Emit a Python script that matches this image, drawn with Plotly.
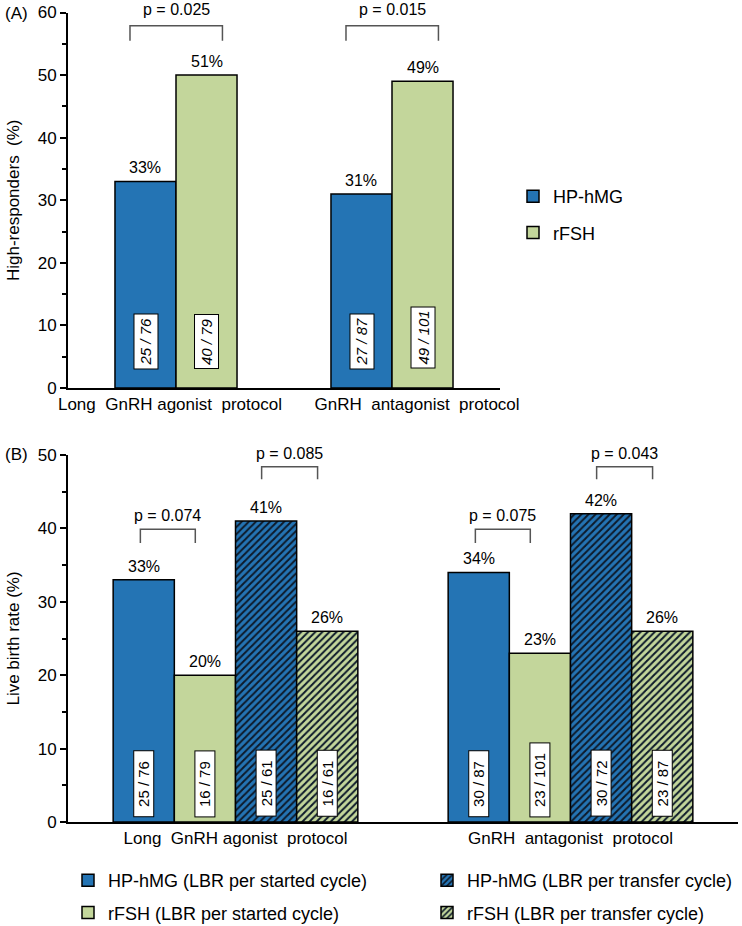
import plotly.graph_objects as go

# ---------------- data ----------------
protocols = ["Long  GnRH agonist  protocol", "GnRH  antagonist  protocol"]

# Panel A: high responders
a_series = ["HP-hMG", "rFSH"]
a_values = [[33, 31], [50, 49]]
a_labels = [["33%", "31%"], ["51%", "49%"]]
a_counts = [["25 / 76", "27 / 87"], ["40 / 79", "49 / 101"]]
a_pvalues = ["p = 0.025", "p = 0.015"]

# Panel B: live birth rate
b_series = ["HP-hMG (LBR per started cycle)", "rFSH (LBR per started cycle)",
            "HP-hMG (LBR per transfer cycle)", "rFSH (LBR per transfer cycle)"]
b_values = [[33, 34], [20, 23], [41, 42], [26, 26]]
b_labels = [["33%", "34%"], ["20%", "23%"], ["41%", "42%"], ["26%", "26%"]]
b_counts = [["25 / 76", "30 / 87"], ["16 / 79", "23 / 101"],
            ["25 / 61", "30 / 72"], ["16 / 61", "23 / 87"]]
b_pvalues_started = ["p = 0.074", "p = 0.075"]
b_pvalues_transfer = ["p = 0.085", "p = 0.043"]

# ---------------- style ----------------
BLUE = "#2474b4"
GREEN = "#c3d69b"
FONT = "Liberation Sans, Arial, sans-serif"
W, H = 742, 926

fig = go.Figure()

# Panel A bars
wa = 0.2825
colors_a = [BLUE, GREEN]
for k, name in enumerate(a_series):
    xs = [i + (k - 0.5) * wa for i in range(len(protocols))]
    fig.add_trace(go.Bar(
        x=xs, y=a_values[k], width=wa, name=name,
        marker=dict(color=colors_a[k], line=dict(color="black", width=1.5)),
        xaxis="x", yaxis="y", legend="legend", legendgroup="a%d" % k,
        hoverinfo="skip"))
    for i in range(len(protocols)):
        fig.add_annotation(x=xs[i], y=a_values[k][i], xref="x", yref="y",
                           text=a_labels[k][i], showarrow=False,
                           yanchor="bottom", yshift=3,
                           font=dict(size=16, color="black", family=FONT))
        fig.add_annotation(x=xs[i], y=0, xref="x", yref="y",
                           text="<i>%s</i>" % a_counts[k][i], showarrow=False,
                           textangle=-90, yanchor="bottom", yshift=19,
                           bgcolor="white", bordercolor="black", borderwidth=1,
                           borderpad=3,
                           font=dict(size=15, color="black", family=FONT))

# Panel B bars
wb = 0.1826
colors_b = [BLUE, GREEN, BLUE, GREEN]
patterns_b = ["", "", "/", "/"]
for k, name in enumerate(b_series):
    xs = [i + (k - 1.5) * wb for i in range(len(protocols))]
    marker = dict(color=colors_b[k], line=dict(color="black", width=1.5))
    if patterns_b[k]:
        marker["pattern"] = dict(shape=patterns_b[k], fgcolor="#0d1a2a",
                                 bgcolor=colors_b[k], size=5, solidity=0.4,
                                 fillmode="replace")
    fig.add_trace(go.Bar(
        x=xs, y=b_values[k], width=wb, name=name, marker=marker,
        xaxis="x2", yaxis="y2",
        legend="legend2" if k < 2 else "legend3", legendgroup="b%d" % k,
        hoverinfo="skip"))
    for i in range(len(protocols)):
        fig.add_annotation(x=xs[i], y=b_values[k][i], xref="x2", yref="y2",
                           text=b_labels[k][i], showarrow=False,
                           yanchor="bottom", yshift=3,
                           font=dict(size=16, color="black", family=FONT))
        fig.add_annotation(x=xs[i], y=0, xref="x2", yref="y2",
                           text="&nbsp;&nbsp;%s&nbsp;&nbsp;" % b_counts[k][i],
                           showarrow=False,
                           textangle=-90, yanchor="bottom", yshift=5,
                           bgcolor="white", bordercolor="black", borderwidth=1,
                           borderpad=1,
                           font=dict(size=15, color="black", family=FONT))

# brackets
BR = dict(color="#555555", width=1.5)


def bracket(xref, yref, x0, x1, ytop, ybot, text, tshift):
    fig.add_shape(type="path", xref=xref, yref=yref,
                  path="M %f,%f L %f,%f L %f,%f L %f,%f" % (x0, ybot, x0, ytop, x1, ytop, x1, ybot),
                  line=BR)
    fig.add_annotation(x=(x0 + x1) / 2, y=ytop, xref=xref, yref=yref, text=text,
                       showarrow=False, yanchor="bottom", yshift=tshift,
                       font=dict(size=16, color="black", family=FONT))


for i, p in enumerate(a_pvalues):
    bracket("x", "y", i - 0.213, i + 0.215, 57.9, 55.5, p, 6)
for i, p in enumerate(b_pvalues_started):
    bracket("x2", "y2", i - 0.284, i - 0.12, 39.9, 38.0, p, 3)
for i, p in enumerate(b_pvalues_transfer):
    bracket("x2", "y2", i + 0.078, i + 0.245, 48.4, 46.7, p, 3)

# panel letters
fig.add_annotation(x=3 / W, y=1 - 13 / H, xref="paper", yref="paper", text="(A)",
                   showarrow=False, xanchor="left", yanchor="middle",
                   font=dict(size=17, color="black", family=FONT))
fig.add_annotation(x=3 / W, y=1 - 455 / H, xref="paper", yref="paper", text="(B)",
                   showarrow=False, xanchor="left", yanchor="middle",
                   font=dict(size=17, color="black", family=FONT))

axis_common = dict(showgrid=False, zeroline=False, showline=True, linecolor="black",
                   linewidth=2, tickfont=dict(size=17, color="black", family=FONT))

fig.update_layout(
    width=W, height=H, margin=dict(l=0, r=0, t=0, b=0, autoexpand=False),
    paper_bgcolor="white", plot_bgcolor="white",
    barmode="overlay", showlegend=True,
    font=dict(family=FONT, color="black"),
    xaxis=dict(domain=[68 / W, 500 / W], range=[-0.5, 1.5], tickvals=[-0.028, 1.116],
               ticktext=protocols, ticks="", tickangle=0, anchor="y", **axis_common),
    yaxis=dict(domain=[1 - 388 / H, 1 - 12.5 / H], range=[0, 60], dtick=10,
               ticks="outside", ticklen=6, tickwidth=2, tickcolor="black",
               minor=dict(dtick=5, ticks="outside", ticklen=4, tickwidth=2, tickcolor="black"),
               title=dict(text="High-responders  (%)", standoff=14,
                          font=dict(size=17, color="black", family=FONT)),
               anchor="x", **axis_common),
    xaxis2=dict(domain=[68 / W, 738 / W], range=[-0.5, 1.5], tickvals=[0, 1],
                ticktext=protocols, ticks="", tickangle=0, anchor="y2", **axis_common),
    yaxis2=dict(domain=[1 - 822 / H, 1 - 455 / H], range=[0, 50], dtick=10,
                ticks="outside", ticklen=6, tickwidth=2, tickcolor="black",
                minor=dict(dtick=5, ticks="outside", ticklen=4, tickwidth=2, tickcolor="black"),
                title=dict(text="Live birth rate (%)", standoff=14,
                           font=dict(size=17, color="black", family=FONT)),
                anchor="x2", **axis_common),
    legend=dict(x=513 / W, y=1 - 178 / H, xanchor="left", yanchor="top",
                font=dict(size=18, color="black", family=FONT), tracegroupgap=10,
                bgcolor="rgba(0,0,0,0)"),
    legend2=dict(x=68 / W, y=1 - 862 / H, xanchor="left", yanchor="top",
                 font=dict(size=18, color="black", family=FONT), tracegroupgap=6,
                 bgcolor="rgba(0,0,0,0)"),
    legend3=dict(x=427 / W, y=1 - 862 / H, xanchor="left", yanchor="top",
                 font=dict(size=18, color="black", family=FONT), tracegroupgap=6,
                 bgcolor="rgba(0,0,0,0)"),
)

fig.write_html("out.html", config={"displayModeBar": False},
               post_script="document.body.style.margin='0';document.body.style.overflow='hidden';")
